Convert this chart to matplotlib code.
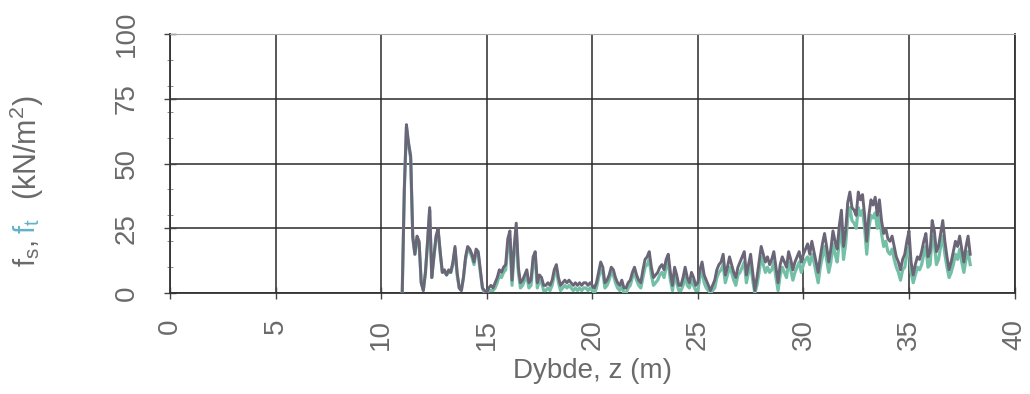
import numpy as np
import matplotlib.pyplot as plt
from matplotlib.ticker import MultipleLocator

# depth start/step of the sounding (m)
z_start = 11.0
z_step = 0.1

# sleeve friction f_s (kN/m2), one row per metre
f_s = [
    0, 40, 65, 58, 53, 22, 15, 22, 20, 4,          # 11
    1, 8, 20, 33, 6, 14, 22, 25, 16, 8,            # 12
    9, 7, 9, 8, 12, 18, 8, 2, 1, 6,                # 13
    14, 18, 17, 15, 12, 17, 16, 9, 2, 1,           # 14
    0, 2, 3, 2, 4, 6, 9, 8, 10, 11,                # 15
    21, 24, 5, 18, 27, 10, 4, 5, 7, 9,             # 16
    4, 5, 14, 16, 4, 7, 6, 3, 3, 4,                # 17
    3, 5, 9, 11, 6, 3, 4, 5, 4, 5,                 # 18
    4, 3, 4, 3, 4, 3, 4, 4, 3, 4,                  # 19
    3, 2, 4, 8, 12, 10, 4, 5, 7, 10,               # 20
    9, 6, 4, 3, 5, 2, 2, 4, 5, 8,                  # 21
    10, 7, 5, 4, 9, 13, 14, 16, 10, 6,             # 22
    7, 8, 10, 11, 9, 13, 15, 8, 3, 10,             # 23
    7, 3, 3, 6, 10, 6, 4, 8, 6, 3,                 # 24
    4, 9, 12, 7, 5, 3, 1, 3, 5, 9,                 # 25
    11, 12, 15, 7, 10, 14, 11, 8, 6, 10,           # 26
    12, 14, 16, 7, 11, 15, 8, 1, 6, 12,            # 27
    18, 15, 12, 14, 11, 13, 16, 10, 4, 11,         # 28
    14, 12, 10, 16, 13, 9, 12, 14, 16, 12,         # 29
    15, 17, 19, 15, 20, 16, 12, 8, 14, 19,         # 30
    23, 18, 12, 17, 24, 20, 17, 26, 32, 18,        # 31
    24, 35, 39, 33, 32, 30, 39, 36, 38, 30,        # 32
    20, 30, 36, 34, 37, 30, 36, 28, 23, 25,        # 33
    21, 20, 22, 18, 14, 12, 9, 13, 15, 20,         # 34
    24, 12, 7, 11, 14, 13, 16, 20, 23, 14,         # 35
    16, 28, 24, 16, 18, 23, 28, 20, 14, 9,         # 36
    12, 16, 20, 18, 22, 17, 12, 18, 22, 15,        # 37
]

# tip-related friction f_t (kN/m2)
f_t = [
    0, 40, 64, 57, 52, 21, 15, 21, 19, 4,          # 11
    1, 8, 19, 32, 6, 14, 21, 24, 15, 8,            # 12
    8, 7, 8, 8, 11, 17, 7, 2, 1, 6,                # 13
    13, 17, 16, 14, 11, 16, 15, 8, 2, 0,           # 14
    0, 1, 1, 1, 2, 4, 7, 6, 8, 9,                  # 15
    18, 21, 3, 15, 24, 8, 2, 3, 5, 7,              # 16
    2, 3, 12, 13, 2, 5, 4, 1, 1, 2,                # 17
    1, 3, 7, 9, 4, 1, 2, 3, 2, 3,                  # 18
    2, 1, 2, 1, 2, 1, 2, 2, 1, 2,                  # 19
    1, 0, 2, 6, 9, 8, 2, 3, 5, 8,                  # 20
    7, 4, 2, 1, 3, 0, 0, 2, 3, 6,                  # 21
    8, 5, 3, 2, 6, 10, 11, 13, 7, 3,               # 22
    4, 5, 7, 8, 6, 10, 12, 5, 1, 7,                # 23
    4, 1, 1, 3, 7, 3, 2, 5, 3, 1,                  # 24
    1, 6, 9, 4, 2, 1, 0, 1, 2, 6,                  # 25
    8, 9, 11, 4, 7, 10, 8, 5, 3, 7,                # 26
    8, 10, 12, 4, 8, 11, 5, 0, 3, 8,               # 27
    14, 11, 8, 10, 8, 9, 12, 6, 1, 7,              # 28
    10, 8, 6, 12, 9, 5, 8, 10, 12, 8,              # 29
    11, 13, 14, 11, 15, 12, 8, 4, 10, 14,          # 30
    18, 13, 8, 12, 19, 15, 12, 20, 26, 13,         # 31
    19, 29, 33, 28, 27, 25, 33, 30, 32, 25,        # 32
    15, 25, 30, 29, 31, 25, 30, 23, 18, 20,        # 33
    16, 15, 17, 13, 10, 8, 5, 9, 10, 15,           # 34
    18, 8, 4, 7, 10, 9, 11, 15, 18, 10,            # 35
    11, 22, 19, 11, 13, 18, 22, 15, 10, 6,         # 36
    8, 11, 15, 13, 17, 12, 8, 13, 16, 11,          # 37
]

z = z_start + z_step * np.arange(len(f_s))

plt.rcParams['font.family'] = ['Liberation Sans', 'DejaVu Sans']
plt.rcParams['mathtext.default'] = 'regular'

grey_txt = '#6a6a6a'
col_s = '#6b6677'
col_t = '#74c0a6'

fig = plt.figure(figsize=(10.30, 3.94), dpi=100)
ax = fig.add_axes([0.165, 0.256, 0.820, 0.658])

ax.plot(z, f_t, color=col_t, lw=2.3, zorder=3)
ax.plot(z, f_s, color=col_s, lw=2.1, zorder=4)

ax.set_xlim(0, 40)
ax.set_ylim(0, 100)
ax.xaxis.set_major_locator(MultipleLocator(5))
ax.yaxis.set_major_locator(MultipleLocator(25))
ax.yaxis.set_minor_locator(MultipleLocator(10))

ax.grid(True, which='major', color='#2a2a2a', lw=1.1)
for s in ['left', 'bottom', 'right']:
    ax.spines[s].set_color('#333333')
    ax.spines[s].set_linewidth(1.3)
ax.spines['top'].set_color('#aaaaaa')

ax.tick_params(axis='both', which='major', direction='inout', length=9,
               width=1.0, color='#444444', labelsize=20, labelcolor=grey_txt,
               labelrotation=90)
ax.tick_params(axis='x', which='major', pad=14)
ax.tick_params(axis='y', which='major', pad=17)
ax.tick_params(axis='y', which='minor', direction='inout', length=5,
               color='#777777')
for lab in ax.get_yticklabels():
    lab.set_va('center')

ax.set_xlabel('Dybde, z (m)', fontsize=20, color=grey_txt, labelpad=6)

# multi-coloured y label
fig.text(0.026, 0.322, r'f$_{s}$,', rotation=90, ha='center', va='bottom',
         fontsize=21, color=grey_txt)
fig.text(0.026, 0.405, r'f$_{t}$', rotation=90, ha='center', va='bottom',
         fontsize=21, color='#62b3c6')
fig.text(0.026, 0.492, r'(kN/m$^{2}$)', rotation=90, ha='center', va='bottom',
         fontsize=22, color=grey_txt)

fig.savefig('out.png', dpi=100)
